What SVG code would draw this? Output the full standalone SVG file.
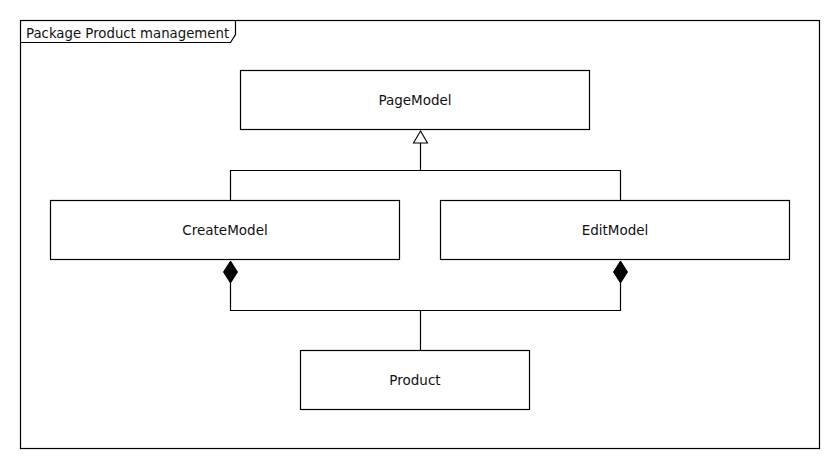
<svg xmlns="http://www.w3.org/2000/svg" width="840" height="470" viewBox="0 0 840 470">
<style>
.box{fill:#fff;stroke:#000;stroke-width:1.2}
.lbl{font-family:"DejaVu Sans","Liberation Sans",sans-serif;font-size:13.5px;fill:#111;text-anchor:middle}
.ln{fill:none;stroke:#000;stroke-width:1.2}
</style>
<rect width="840" height="470" fill="#fff"/>
<g id="package">
<rect x="20.5" y="20.5" width="799" height="428" class="box"/>
<path d="M20.5,42.5 H230.5 L235.5,34.5 V20.5" class="ln"/>
<text x="26" y="38" style="font-family:'DejaVu Sans','Liberation Sans',sans-serif;font-size:13.3px;fill:#111">Package Product management</text>
</g>
<g id="connectors">
<path d="M420.5,143 V170.5 M230.5,200.5 V170.5 H620.5 V200.5" class="ln"/>
<path d="M420.5,131 L427.5,143 L413.5,143 Z" fill="#fff" stroke="#000" stroke-width="1.1"/>
<path d="M230.5,283 V310.5 H620.5 V283 M420.5,310.5 V350.5" class="ln"/>
<path d="M230.5,261 L237.5,272 L230.5,283 L223.5,272 Z" fill="#000" stroke="#000" stroke-width="1"/>
<path d="M620.5,261 L627.5,272 L620.5,283 L613.5,272 Z" fill="#000" stroke="#000" stroke-width="1"/>
</g>
<g id="PageModel">
<rect x="240.5" y="70.5" width="349" height="59" class="box"/>
<text x="415" y="104.5" class="lbl">PageModel</text>
</g>
<g id="CreateModel">
<rect x="50.5" y="200.5" width="349" height="59" class="box"/>
<text x="225" y="234.5" class="lbl">CreateModel</text>
</g>
<g id="EditModel">
<rect x="440.5" y="200.5" width="349" height="59" class="box"/>
<text x="615" y="234.5" class="lbl">EditModel</text>
</g>
<g id="Product">
<rect x="300.5" y="350.5" width="229" height="59" class="box"/>
<text x="415" y="384.5" class="lbl">Product</text>
</g>
</svg>
